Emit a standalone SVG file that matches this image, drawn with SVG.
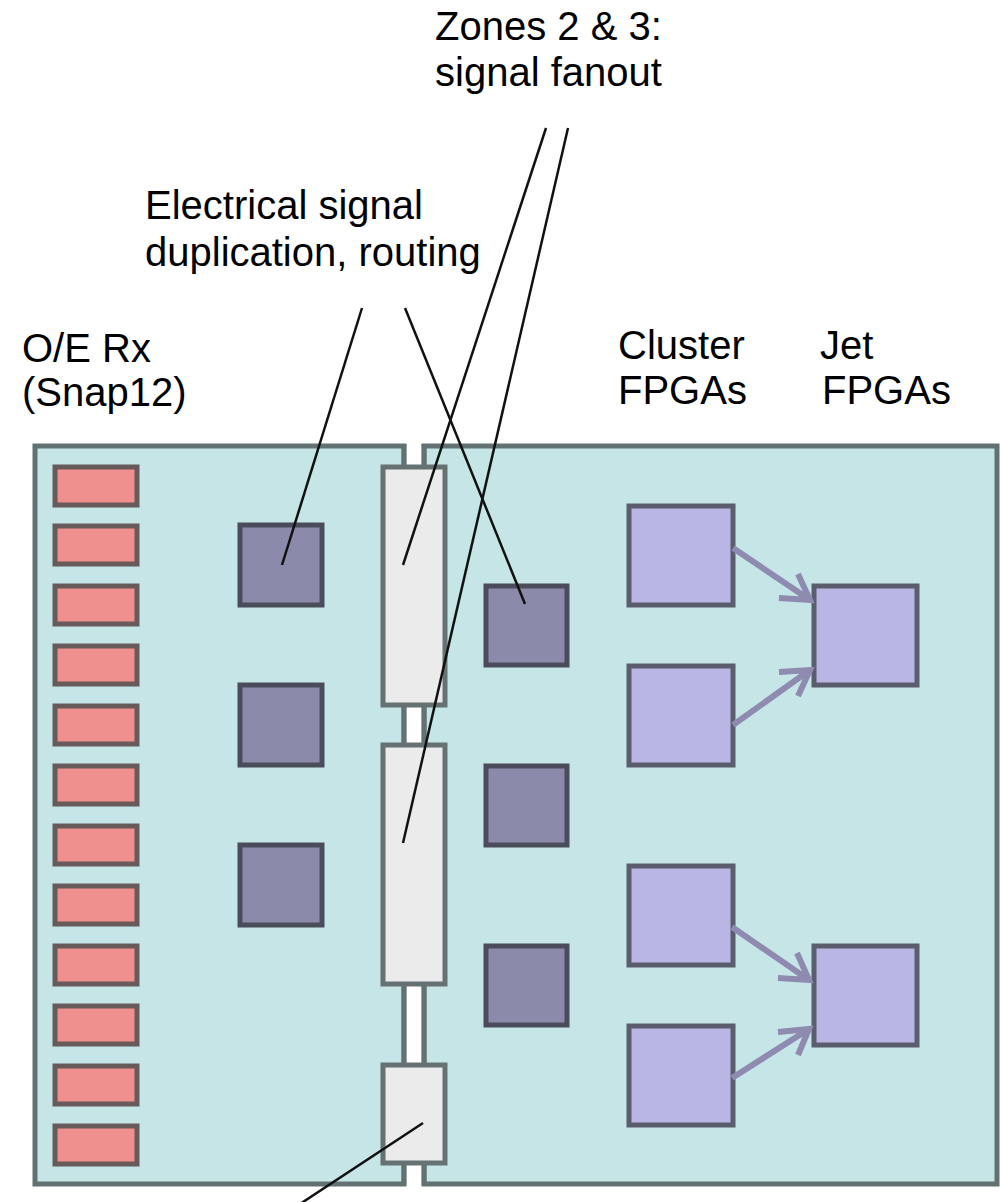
<svg xmlns="http://www.w3.org/2000/svg" width="1003" height="1202" viewBox="0 0 1003 1202">
<style>
  .lbl { font-family: "Liberation Sans", Arial, sans-serif; font-size: 40px; fill: #000; }
  .board { fill: #c5e5e6; stroke: #627171; stroke-width: 5; }
  .rx { fill: #ef8f8e; stroke: #665a5a; stroke-width: 5; }
  .dup { fill: #8c8aab; stroke: #4a4c5c; stroke-width: 5; }
  .fpga { fill: #b9b6e3; stroke: #5a5d6c; stroke-width: 5; }
  .conn { fill: #ebebeb; stroke: #667272; stroke-width: 5; }
  .edge { stroke: #627171; stroke-width: 5; }
  .call { stroke: #111; stroke-width: 2.5; fill: none; }
  .arr { stroke: #8e8ab0; stroke-width: 6; fill: none; stroke-linecap: butt; }
</style>
<rect width="1003" height="1202" fill="#fff"/>
<g id="board-left"><rect class="board" x="35" y="446" width="369" height="738"/></g>
<g id="board-right"><rect class="board" x="424" y="446" width="573" height="738"/></g>
<g id="backplane-gap">
  <rect x="406.5" y="446" width="15" height="756" fill="#fff"/>
  <line class="edge" x1="404" y1="444" x2="404" y2="1186"/>
  <line class="edge" x1="424" y1="444" x2="424" y2="1186"/>
</g>
<g id="oe-rx">
  <rect class="rx" x="55" y="467" width="82" height="38"/>
  <rect class="rx" x="55" y="526" width="82" height="38"/>
  <rect class="rx" x="55" y="586" width="82" height="38"/>
  <rect class="rx" x="55" y="646" width="82" height="38"/>
  <rect class="rx" x="55" y="706" width="82" height="38"/>
  <rect class="rx" x="55" y="766" width="82" height="38"/>
  <rect class="rx" x="55" y="826" width="82" height="38"/>
  <rect class="rx" x="55" y="886" width="82" height="38"/>
  <rect class="rx" x="55" y="946" width="82" height="38"/>
  <rect class="rx" x="55" y="1006" width="82" height="38"/>
  <rect class="rx" x="55" y="1066" width="82" height="38"/>
  <rect class="rx" x="55" y="1126" width="82" height="38"/>
</g>
<g id="dup-left">
  <rect class="dup" x="240" y="525" width="82" height="80"/>
  <rect class="dup" x="240" y="685" width="82" height="80"/>
  <rect class="dup" x="240" y="845" width="82" height="80"/>
</g>
<g id="dup-right">
  <rect class="dup" x="486" y="586" width="81" height="79"/>
  <rect class="dup" x="486" y="766" width="81" height="79"/>
  <rect class="dup" x="486" y="946" width="81" height="79"/>
</g>
<g id="fanout-connectors">
  <rect class="conn" x="383" y="467" width="62" height="238"/>
  <rect class="conn" x="383" y="745" width="62" height="239"/>
  <rect class="conn" x="383" y="1065" width="62" height="98"/>
</g>
<g id="cluster-fpgas">
  <rect class="fpga" x="629" y="506" width="104" height="99"/>
  <rect class="fpga" x="629" y="666" width="104" height="99"/>
  <rect class="fpga" x="629" y="866" width="104" height="99"/>
  <rect class="fpga" x="629" y="1026" width="104" height="99"/>
</g>
<g id="jet-fpgas">
  <rect class="fpga" x="814" y="586" width="103" height="99"/>
  <rect class="fpga" x="814" y="946" width="103" height="99"/>
</g>
<g id="connectors">
  <path class="arr" d="M733,548 L810,600 M798,574 L810,600 L779,598"/>
  <path class="arr" d="M733,725 L810,670 M779,672 L810,670 L798,696"/>
  <path class="arr" d="M732,927 L809,980 M797,953 L809,980 L778,978"/>
  <path class="arr" d="M732,1078 L809,1029 M778,1032 L809,1029 L798,1055"/>
  <line class="call" x1="362" y1="308" x2="282" y2="565"/>
  <line class="call" x1="405" y1="308" x2="525" y2="604"/>
  <line class="call" x1="546" y1="128" x2="403" y2="565"/>
  <line class="call" x1="568" y1="128" x2="403" y2="843"/>
  <line class="call" x1="423" y1="1123" x2="300" y2="1204"/>
</g>
<g id="labels">
  <text class="lbl" x="435" y="40">Zones 2 &amp; 3:</text>
  <text class="lbl" x="435" y="86">signal fanout</text>
  <text class="lbl" x="145" y="219">Electrical signal</text>
  <text class="lbl" x="145" y="266">duplication, routing</text>
  <text class="lbl" x="22" y="362">O/E Rx</text>
  <text class="lbl" x="22" y="406">(Snap12)</text>
  <text class="lbl" x="618" y="359">Cluster</text>
  <text class="lbl" x="618" y="404">FPGAs</text>
  <text class="lbl" x="820" y="359">Jet</text>
  <text class="lbl" x="822" y="404">FPGAs</text>
</g>
</svg>
